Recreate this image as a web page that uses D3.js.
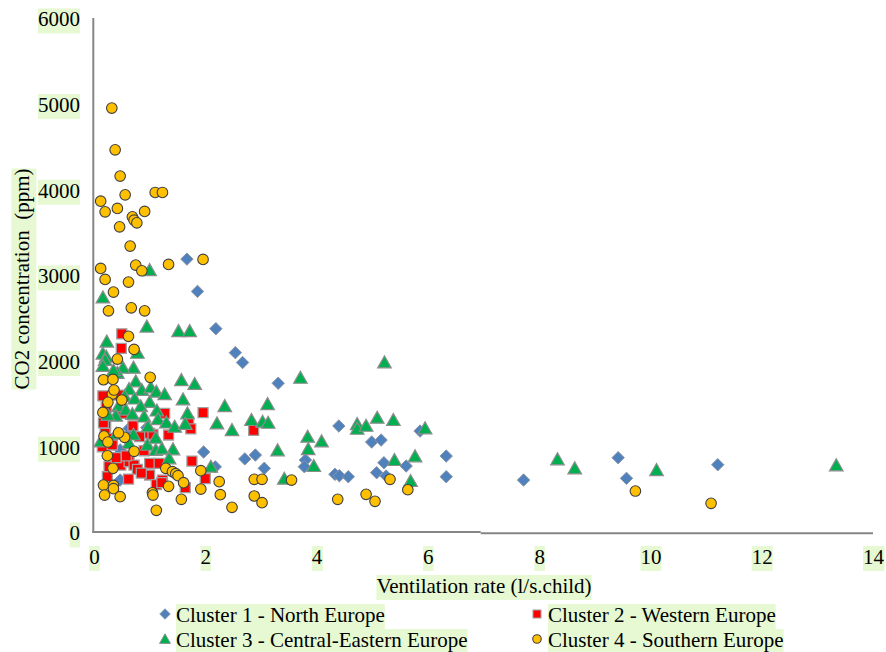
<!DOCTYPE html>
<html>
<head>
<meta charset="utf-8">
<script src="https://cdn.jsdelivr.net/npm/d3@7"></script>
<style>
  html, body { margin: 0; padding: 0; background: #fff; }
  svg { display: block; }
  text { font-family: "Liberation Serif", "Times New Roman", serif; }
</style>
</head>
<body>
<svg id="chart" width="886" height="652"></svg>
<script>
// ---------- data ----------
const seriesNames = [
  "Cluster 1 - North Europe",
  "Cluster 2 - Western Europe",
  "Cluster 3 - Central-Eastern Europe",
  "Cluster 4 - Southern Europe"
];
const xTicks = [0, 2, 4, 6, 8, 10, 12, 14];
const yTicks = [0, 1000, 2000, 3000, 4000, 5000, 6000];
const xTitle = "Ventilation rate (l/s.child)";
const yTitle = "CO2 concentration  (ppm)";

const northEurope = [
  [1.67,3197],[1.86,2820],[2.19,2385],[2.54,2105],[2.67,1990],[3.31,1748],
  [1.97,945],[2.71,865],[2.90,910],[3.06,755],[2.18,772],[0.47,618],[0.47,970],
  [0.95,1230],[0.63,1220],[4.40,1249],[3.80,852],[3.78,774],[4.33,685],[4.41,669],
  [4.57,657],[4.99,1062],[5.16,1085],[5.21,820],[5.08,704],[5.25,665],[5.61,782],
  [5.86,1190],[6.33,898],[6.33,657],[7.72,618],[9.42,879],[9.57,638],[11.21,797]
];
const westernEurope = [
  [0.50,2325],[0.49,2155],[0.16,1600],[0.45,1610],[0.22,1470],[0.52,1397],[0.21,1250],
  [0.17,1285],[0.20,1163],[0.33,1105],[0.15,1007],[0.33,1027],[0.82,1124],[1.00,1163],
  [1.06,1150],[1.34,1144],[1.27,1397],[1.96,1404],[1.70,1300],[1.74,1215],[2.87,1198],
  [0.48,793],[0.63,832],[0.72,793],[0.78,743],[1.00,813],[1.17,813],[0.62,630],
  [1.00,677],[1.12,565],[1.23,618],[1.22,587],[1.76,840],[1.64,530],[2.00,634],
  [0.24,657],[0.27,774],[0.40,880],[0.58,900],[0.90,960],[0.85,700],[0.70,1250]
];
const centralEasternEurope = [
  [1.00,3069],[0.16,2750],[0.95,2410],[1.52,2357],[1.72,2357],[0.23,2235],[0.16,2095],
  [0.22,2060],[0.20,2020],[0.16,1950],[0.78,2104],[0.71,1930],[0.52,1930],[0.42,1870],
  [0.35,1900],[1.57,1785],[1.81,1740],[0.75,1770],[0.63,1680],[0.86,1670],[1.02,1700],
  [1.12,1650],[1.27,1620],[0.55,1600],[0.73,1570],[1.00,1530],[0.84,1480],[1.13,1430],
  [0.44,1480],[0.57,1440],[0.69,1390],[0.39,1370],[0.90,1360],[1.15,1330],[0.97,1245],
  [1.30,1290],[0.71,1150],[0.63,1050],[0.96,1030],[1.11,1112],[1.11,969],[1.22,984],
  [1.42,977],[1.35,872],[0.12,1070],[0.40,1160],[0.25,1380],[1.45,1240],[1.60,1560],
  [1.68,1397],[1.64,1275],[2.35,1482],[2.21,1280],[2.48,1202],[2.83,1319],[3.03,1299],
  [3.13,1287],[3.12,1505],[3.71,1812],[5.22,1992],[2.10,774],[3.30,965],[3.42,634],
  [3.84,1124],[4.09,1070],[3.85,980],[3.95,782],[4.73,1272],[4.73,1217],[4.89,1252],
  [5.09,1346],[5.38,1319],[5.95,1222],[5.40,852],[5.77,895],[5.69,607],[8.33,860],
  [8.64,755],[10.11,735],[13.34,790]
];
const southernEurope = [
  [0.32,4960],[0.38,4473],[0.47,4166],[0.12,3874],[0.20,3749],[0.42,3789],[0.56,3948],
  [1.10,3975],[1.23,3975],[0.91,3754],[0.69,3691],[0.72,3652],[0.77,3621],[0.46,3574],
  [0.65,3349],[0.12,3089],[0.20,2960],[0.75,3127],[0.86,3061],[1.34,3135],[1.96,3194],
  [0.62,2929],[0.35,2812],[0.26,2594],[0.67,2629],[0.91,2594],[0.62,2296],[0.72,2143],
  [0.42,2030],[0.17,1789],[0.34,1793],[1.01,1817],[0.33,1622],[0.25,1525],[0.16,1408],
  [0.50,1552],[0.36,1669],[0.18,1132],[0.25,1062],[0.55,1117],[0.44,1170],[0.72,953],
  [0.24,902],[0.34,755],[1.29,755],[1.41,716],[1.47,692],[1.51,669],[1.92,727],
  [1.61,587],[1.34,545],[2.25,599],[2.88,627],[3.02,627],[3.55,618],[0.17,560],
  [0.35,555],[0.35,517],[0.19,443],[0.47,424],[1.05,470],[1.06,443],[1.57,393],
  [1.92,513],[2.27,447],[2.88,432],[3.02,354],[2.48,300],[1.12,265],[4.38,393],
  [4.89,451],[5.05,370],[5.32,627],[5.64,505],[9.73,490],[11.09,346]
];

// ---------- styles ----------
const FONT = 21;
const LABEL_BG = "#e6f9d2";
const AXIS_COLOR = "#868686";

const svg = d3.select("#chart");
const xS = d3.scaleLinear().domain([0, 14]).range([94, 873]);
const yS = d3.scaleLinear().domain([0, 6000]).range([533, 19]);

function addBg(sel) {
  sel.each(function () {
    const bb = this.getBBox();
    d3.select(this.parentNode).insert("rect", () => this)
      .attr("x", bb.x).attr("y", bb.y + 1)
      .attr("width", bb.width).attr("height", bb.height + 1)
      .attr("fill", LABEL_BG);
  });
}

// axes (labels only)
const gx = svg.append("g")
  .attr("transform", `translate(0,${yS(0)})`)
  .call(d3.axisBottom(xS).tickValues(xTicks).tickSize(0).tickFormat(d3.format("d")));
gx.select(".domain").remove();
gx.selectAll("text").attr("y", 31).attr("dy", 0)
  .attr("font-size", FONT).attr("fill", "#000")
  .style("font-family", '"Liberation Serif", "Times New Roman", serif');
addBg(gx.selectAll("text"));

const gy = svg.append("g")
  .attr("transform", `translate(${xS(0)},0)`)
  .call(d3.axisLeft(yS).tickValues(yTicks).tickSize(0).tickFormat(d3.format("d")));
gy.select(".domain").remove();
gy.selectAll("text").attr("x", -14).attr("dy", "0.33em")
  .attr("font-size", FONT).attr("fill", "#000")
  .style("font-family", '"Liberation Serif", "Times New Roman", serif');
addBg(gy.selectAll("text"));

// axis lines
svg.append("line")
  .attr("x1", xS(0) - 0.7).attr("x2", xS(0) - 0.7)
  .attr("y1", yS(6000) - 1).attr("y2", yS(0))
  .attr("stroke", AXIS_COLOR).attr("stroke-width", 2);
svg.append("line")
  .attr("x1", xS(0) - 1.7).attr("x2", xS(6.95))
  .attr("y1", yS(0) - 1).attr("y2", yS(0) - 1)
  .attr("stroke", AXIS_COLOR).attr("stroke-width", 2);
svg.append("line")
  .attr("x1", xS(6.95)).attr("x2", xS(14))
  .attr("y1", yS(0) + 0.3).attr("y2", yS(0) + 0.3)
  .attr("stroke", AXIS_COLOR).attr("stroke-width", 2);

// ---------- markers ----------
const markers = [
  { data: northEurope, path: "M0,-6.2L6.2,0L0,6.2L-6.2,0Z", fill: "#4f81bd", stroke: "#8a94a3", sw: 1 },
  { data: westernEurope, path: "M-5,-5H5V5H-5Z", fill: "#ff0000", stroke: "#a0a0a0", sw: 1.3 },
  { data: centralEasternEurope, path: "M0,-6.5L6.8,5.5L-6.8,5.5Z", fill: "#00b050", stroke: "#8c8c8c", sw: 1.2 },
  { data: southernEurope, circle: 5.3, fill: "#ffc000", stroke: "#404040", sw: 1.1 }
];

const plot = svg.append("g");
markers.forEach(m => {
  const g = plot.append("g");
  if (m.circle) {
    g.selectAll("circle").data(m.data).join("circle")
      .attr("cx", d => xS(d[0])).attr("cy", d => yS(d[1]))
      .attr("r", m.circle)
      .attr("fill", m.fill).attr("stroke", m.stroke).attr("stroke-width", m.sw);
  } else {
    g.selectAll("path").data(m.data).join("path")
      .attr("d", m.path)
      .attr("transform", d => `translate(${xS(d[0])},${yS(d[1])})`)
      .attr("fill", m.fill).attr("stroke", m.stroke).attr("stroke-width", m.sw);
  }
});

// ---------- titles ----------
const xt = svg.append("g");
xt.append("text")
  .attr("x", 484).attr("y", 593)
  .attr("text-anchor", "middle").attr("font-size", FONT)
  .text(xTitle);
addBg(xt.selectAll("text"));

const yt = svg.append("g").attr("transform", "translate(22,279) rotate(-90)");
yt.append("text")
  .attr("x", 0).attr("y", 0).attr("dy", "0.35em")
  .attr("text-anchor", "middle").attr("font-size", FONT)
  .style("white-space", "pre")
  .text(yTitle);
addBg(yt.selectAll("text"));

// ---------- legend ----------
const legendPos = [
  { mx: 165, my: 614, tx: 176, ty: 622 },
  { mx: 537, my: 614, tx: 548, ty: 622 },
  { mx: 165, my: 639, tx: 176, ty: 647 },
  { mx: 537, my: 639, tx: 548, ty: 647 }
];
const legendMarkerScale = [0.85, 0.8, 0.8, 0.8];
const lg = svg.append("g");
seriesNames.forEach((name, i) => {
  const m = markers[i], p = legendPos[i];
  const item = lg.append("g");
  item.append("text").attr("x", p.tx).attr("y", p.ty)
    .attr("font-size", FONT).text(name);
  addBg(item.selectAll("text"));
  if (m.circle) {
    item.append("circle").attr("cx", p.mx).attr("cy", p.my)
      .attr("r", m.circle * legendMarkerScale[i])
      .attr("fill", m.fill).attr("stroke", m.stroke).attr("stroke-width", m.sw);
  } else {
    item.append("path").attr("d", m.path)
      .attr("transform", `translate(${p.mx},${p.my}) scale(${legendMarkerScale[i]})`)
      .attr("fill", m.fill).attr("stroke", m.stroke).attr("stroke-width", m.sw);
  }
});
</script>
</body>
</html>
